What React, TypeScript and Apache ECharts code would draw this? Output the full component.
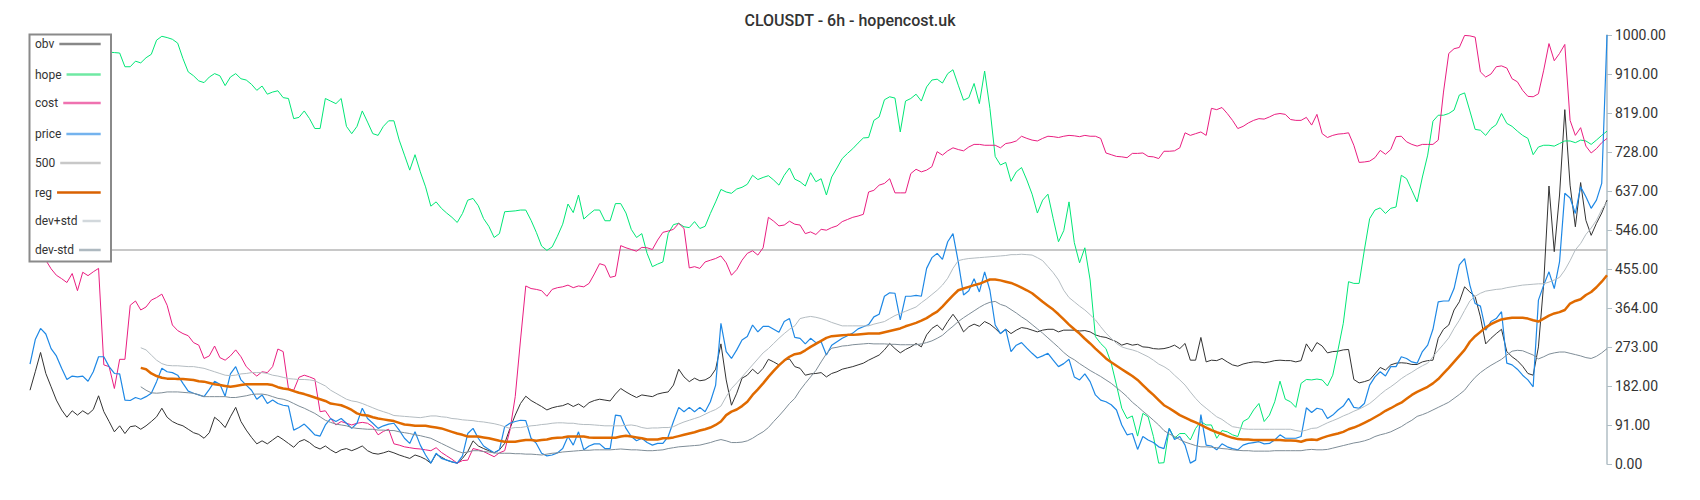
import React, { useEffect, useRef } from "react";
import * as echarts from "echarts";

const TITLE = "CLOUSDT - 6h - hopencost.uk";

const yTickLabels = ["0.00", "91.00", "182.00", "273.00", "364.00", "455.00", "546.00", "637.00", "728.00", "819.00", "910.00", "1000.00"];

const obv = [
  172,215,260,211,180,149,126,109,124,114,124,116,127,159,122,99,75,89,71,87,89,81,89,99,110,130,109,99,93,89,81,73,69,60,73,109,99,85,110,132,99,79,62,47,54,47,56,65,57,48,39,52,57,50,40,35,42,33,26,33,36,31,36,42,31,25,23,26,30,26,
  21,17,13,21,17,11,2,23,16,9,5,2,13,29,54,42,36,31,26,33,48,83,114,141,158,148,141,134,126,131,134,136,141,134,140,132,143,148,151,149,147,163,176,168,161,155,161,159,157,163,166,168,184,221,203,192,200,194,196,203,221,280,196,137,165,200,207,221,210,223,244,238,231,242,245,227,
  223,207,210,211,213,203,211,215,221,224,227,231,235,242,248,254,266,281,269,259,267,273,281,273,301,316,324,312,332,349,332,308,320,326,321,332,326,316,304,314,304,312,318,316,312,308,312,314,314,308,312,312,312,310,311,308,301,297,295,290,285,277,281,277,279,273,272,269,268,269,272,277,269,281,242,242,295,
  238,242,241,246,238,231,228,233,236,238,238,236,238,241,242,241,241,238,241,280,262,283,275,259,262,263,266,267,197,189,192,196,210,225,219,231,235,236,235,232,232,238,241,242,293,314,324,359,378,413,401,390,343,280,293,304,314,262,250,241,228,211,207,273,421,648,495,627,826,650,553,656,568,533,561,585,615,
];

const hope = [
  985,995,1000,993,987,980,975,970,966,963,961,962,960,961,962,960,
  959,958,926,926,939,935,947,955,988,997,994,990,981,945,914,905,893,889,902,910,905,882,902,910,898,895,885,871,881,862,867,870,854,852,805,808,823,805,782,782,852,846,840,852,787,770,787,823,797,770,766,787,800,800,
  755,720,685,721,681,646,601,611,596,585,575,563,584,615,619,602,572,554,528,537,588,589,590,592,592,568,540,508,498,506,531,559,606,586,627,571,582,592,592,567,567,607,607,585,547,528,537,491,460,466,471,537,558,561,553,551,565,549,554,584,611,640,634,631,641,645,652,673,663,668,672,662,650,673,690,664,
  658,648,679,658,665,627,669,690,712,724,735,748,760,761,801,809,849,856,853,774,846,852,862,846,879,895,897,888,910,919,883,848,854,887,840,916,829,717,697,703,659,681,691,662,629,585,615,629,572,518,544,611,516,469,504,429,297,281,269,235,184,130,106,112,65,118,110,64,2,3,83,60,71,71,56,83,99,91,91,60,78,
  75,68,64,99,106,126,141,99,114,145,193,151,145,132,188,197,196,198,196,182,207,266,328,425,421,421,499,572,592,597,584,596,599,673,665,638,611,669,720,799,813,813,817,825,860,865,823,780,778,766,782,791,817,794,787,776,766,759,721,739,743,743,741,747,753,753,749,755,753,745,755,766,776,
];

const cost = [
  510,495,482,475,455,440,432,423,444,404,447,439,448,456,231,227,176,244,244,370,380,359,366,382,388,396,370,324,311,304,299,283,277,246,252,275,248,242,252,266,250,227,215,205,215,213,227,268,262,176,172,202,207,203,198,122,124,106,91,99,95,91,95,97,95,87,68,76,81,47,
  44,40,38,36,35,33,31,38,27,19,11,2,8,9,36,33,29,23,17,26,31,79,157,289,415,409,407,404,391,407,411,413,417,411,415,413,421,443,467,463,435,438,509,504,500,496,505,504,500,522,540,543,547,561,549,457,460,456,471,475,479,485,469,440,453,475,491,497,487,504,575,566,555,557,566,559,
  557,537,541,535,547,545,551,555,565,570,575,578,582,634,638,650,654,665,632,632,632,677,687,681,685,693,728,720,730,737,733,730,739,745,745,743,743,743,737,747,749,753,764,759,755,753,759,764,763,761,764,766,765,763,766,764,764,759,725,721,717,716,714,724,724,725,717,716,712,729,729,730,737,772,766,770,774,766,
  829,826,831,817,801,782,787,795,801,805,804,809,815,817,815,803,801,801,808,790,815,770,761,766,769,770,772,743,703,704,706,714,731,722,733,763,764,751,745,741,745,745,745,755,867,957,968,971,999,998,995,914,902,909,926,928,923,898,891,871,857,856,863,918,980,940,957,978,801,766,784,741,725,735,749,759,
];

const price = [
  233,290,316,303,269,252,223,197,205,203,205,193,215,250,250,227,211,210,149,148,155,151,157,165,192,223,215,213,207,188,170,165,161,157,174,193,186,158,210,227,196,184,172,151,161,141,149,141,137,135,79,85,93,81,68,65,91,106,99,106,95,83,95,130,106,95,83,89,93,95,
  79,60,48,75,44,21,2,25,13,9,5,2,19,71,83,60,42,34,26,33,87,95,99,102,101,60,48,25,19,21,26,36,64,44,75,33,42,47,47,36,36,114,112,83,64,54,60,50,44,48,48,64,99,132,122,132,122,132,122,145,184,328,262,246,266,289,297,324,308,321,321,314,307,332,339,295,
  293,280,293,283,285,254,277,285,293,299,305,315,320,325,343,349,391,399,398,336,391,391,393,391,456,481,491,477,518,537,471,394,404,432,401,448,405,324,304,314,262,277,283,270,258,247,252,258,242,227,234,244,203,196,210,192,161,149,145,138,126,91,68,71,34,64,56,50,40,36,83,57,64,44,2,9,115,
  44,42,33,47,
  40,36,33,44,48,50,52,47,48,56,68,60,60,60,64,131,120,130,127,106,114,126,135,153,132,130,141,184,203,215,205,227,227,250,246,238,235,262,277,314,378,380,380,409,464,479,417,374,368,312,332,339,355,235,231,221,207,196,180,382,417,448,409,471,631,620,584,646,623,596,615,654,1000,
];

const level500 = [500];

const reg = [
  null,null,null,null,null,null,null,null,null,null,null,null,null,null,null,null,null,null,null,null,null,
  224,221,211,205,201,199,199,198,198,197,196,193,192,189,186,184,182,180,182,184,186,186,186,186,186,184,179,176,174,170,166,163,159,155,151,147,141,139,137,132,126,118,114,113,109,106,104,102,100,
  96,92,91,89,89,89,87,85,83,79,75,71,68,64,64,64,62,60,57,54,52,52,52,54,56,56,54,56,57,60,61,62,64,64,64,64,62,61,61,61,61,61,64,66,64,62,60,57,57,57,60,60,62,65,68,71,74,78,81,85,91,99,114,122,127,135,145,161,174,188,203,217,230,241,250,256,
  258,265,273,280,287,294,298,299,300,301,301,302,303,304,304,304,307,310,313,316,321,325,329,334,340,348,355,367,380,393,405,409,413,417,420,425,430,430,428,425,422,417,411,405,398,388,378,369,360,349,337,325,314,304,292,281,269,258,246,237,229,221,213,205,196,184,172,161,149,137,130,122,114,108,102,97,91,85,79,74,
  70,65,61,58,57,57,56,56,56,56,56,56,55,55,54,52,56,57,56,61,65,68,71,75,81,85,90,96,102,109,116,124,130,137,143,152,161,168,174,180,188,198,211,224,238,252,266,285,298,308,318,326,332,337,339,341,341,341,339,335,332,339,346,351,354,359,374,380,384,394,401,412,425,440,
];

const devUp = [
  null,null,null,null,null,null,null,null,null,null,null,null,null,null,null,null,null,null,null,null,null,
  271,266,254,242,234,230,229,229,228,227,227,225,223,219,215,211,207,206,207,210,211,213,213,213,211,207,205,202,199,198,197,197,196,194,188,182,172,165,158,151,147,145,141,136,131,126,122,118,113,
  112,111,110,109,108,110,112,112,110,109,106,105,103,102,101,99,98,96,94,91,87,83,85,85,87,89,90,92,93,95,96,96,95,95,93,92,92,91,90,89,89,89,89,90,91,89,85,83,84,84,85,85,87,93,98,102,106,110,116,122,127,135,157,176,189,203,217,231,245,259,269,281,293,304,314,322,
  339,342,344,342,339,335,330,326,322,322,322,322,322,322,326,329,332,339,346,351,356,361,366,376,385,395,405,417,433,456,474,477,479,480,481,482,483,484,485,486,488,488,489,488,487,481,474,460,446,429,405,388,378,368,359,348,336,320,305,293,281,273,269,266,262,256,250,242,233,227,219,207,196,184,168,153,140,130,120,110,
  104,95,87,85,82,81,81,81,81,81,81,81,81,81,78,76,79,83,84,90,96,101,106,112,117,123,128,134,141,151,162,172,180,189,199,207,214,222,229,235,250,265,279,294,316,335,358,380,391,398,403,405,407,408,411,413,415,417,418,419,420,420,424,429,435,452,474,499,514,535,550,568,593,611,
];

const devDn = [
  null,null,null,null,null,null,null,null,null,null,null,null,null,null,null,null,null,null,null,null,null,
  180,172,166,165,166,168,168,168,167,166,165,161,157,157,157,157,157,155,155,157,159,162,163,163,161,157,153,151,147,141,135,130,124,118,110,102,97,93,91,89,85,83,82,81,81,79,79,78,78,
  75,73,71,68,66,63,60,54,48,42,36,30,26,28,31,31,29,28,26,25,25,25,24,24,23,23,22,21,23,25,26,28,29,30,31,32,32,33,33,33,33,34,35,34,33,33,32,31,31,32,33,36,38,40,41,42,43,44,47,50,54,57,54,50,50,51,54,60,68,75,85,99,112,126,141,153,
  172,188,203,218,238,257,270,272,275,276,278,279,280,281,280,280,280,279,279,278,278,278,278,280,283,287,293,300,311,321,332,341,349,357,365,372,377,379,372,368,360,352,343,335,325,315,305,294,283,272,260,250,243,234,226,218,211,204,196,188,178,168,157,144,134,123,113,102,91,78,70,64,57,51,47,43,40,40,39,38,
  36,35,33,32,31,31,30,30,30,30,31,31,31,31,31,31,33,34,33,33,34,37,40,43,46,49,51,54,58,64,68,71,75,81,87,95,102,111,115,120,126,132,138,144,153,162,172,188,202,213,222,230,237,244,254,263,265,264,259,254,245,250,256,259,261,261,258,255,252,248,246,251,259,269,
];

const seriesNames = ["obv", "hope", "cost", "price", "500", "reg", "dev+std", "dev-std"];

// styles
const lineColors: Record<string, string> = {
  obv: "#333333",
  hope: "#00e676",
  cost: "#e91e80",
  price: "#1e88e5",
  "500": "#c8c8c8",
  reg: "#e06a00",
  "dev+std": "#b4bcc1",
  "dev-std": "#7f8d97",
};
const iconColors: Record<string, string> = {
  obv: "#888888",
  hope: "#6fe9a3",
  cost: "#ef72b0",
  price: "#74b3ee",
  "500": "#c8c8c8",
  reg: "#d96100",
  "dev+std": "#d2d8dc",
  "dev-std": "#aeb9c0",
};
const lineWidths: Record<string, number> = {
  obv: 1, hope: 1, cost: 1, price: 1.2, "500": 2, reg: 2.5, "dev+std": 1, "dev-std": 1,
};
const legendCenters = [45, 75.5, 104, 135, 164, 193.5, 222, 251];
const LEGEND_LEFT = 35;
const LEGEND_RIGHT = 100.7;
const FONT = "Roboto";

export default function App() {
  const ref = useRef<HTMLDivElement>(null);

  useEffect(() => {
    if (!ref.current) return;
    const chart = echarts.init(ref.current, null, { renderer: "svg" });
    const categories = price.map((_, i) => String(i + 1));
    const step = 1000 / 11;

    const canvas = document.createElement("canvas");
    const ctx = canvas.getContext("2d")!;
    ctx.font = `12px ${FONT}`;

    const legends = seriesNames.map((name, k) => {
      const tw = ctx.measureText(name).width;
      const iw = Math.max(8, LEGEND_RIGHT - LEGEND_LEFT - tw - 5);
      return {
        data: [
          {
            name,
            lineStyle: { color: iconColors[name], width: 2.5, opacity: 1 },
            itemStyle: { color: iconColors[name], opacity: 0, borderWidth: 0 },
          },
        ],
        left: LEGEND_LEFT,
        top: legendCenters[k] - 7,
        orient: "horizontal",
        align: "right",
        itemWidth: iw,
        itemHeight: 14,
        padding: 0,
        itemGap: 0,
        selectedMode: false,
        z: 5,
        textStyle: { fontFamily: FONT, fontSize: 12, color: "#333" },
      };
    });

    const dataMap: Record<string, (number | null)[]> = {
      obv, hope, cost, price, reg, "dev+std": devUp, "dev-std": devDn,
    };

    const series: any[] = seriesNames.map((name) => {
      const base: any = {
        name,
        type: "line",
        symbol: "none",
        showSymbol: false,
        silent: true,
        animation: false,
        connectNulls: false,
        z: 2,
        lineStyle: { color: lineColors[name], width: lineWidths[name] },
        itemStyle: { color: lineColors[name] },
        emphasis: { disabled: true },
        data: name === "500" ? [] : dataMap[name],
      };
      if (name === "500") {
        base.markLine = {
          symbol: ["none", "none"],
          silent: true,
          animation: false,
          z: 2,
          label: { show: false },
          emphasis: { disabled: true },
          lineStyle: { color: lineColors[name], width: lineWidths[name], type: "solid" },
          data: [{ yAxis: level500[0] }],
        };
      }
      return base;
    });

    chart.setOption({
      animation: false,
      backgroundColor: "#ffffff",
      title: {
        text: TITLE,
        left: "center",
        top: 7,
        textStyle: { fontFamily: FONT, fontSize: 16, fontWeight: 500, color: "#333" },
      },
      legend: legends,
      grid: { left: 30, right: 93, top: 35, bottom: 36 },
      xAxis: { type: "category", data: categories, boundaryGap: false, show: false },
      yAxis: {
        type: "value",
        position: "right",
        min: 0,
        max: 1000,
        interval: step,
        axisLine: { show: true, lineStyle: { color: "#b0bec5", width: 1.5 } },
        axisTick: { show: true, length: 5, lineStyle: { color: "#b0bec5" } },
        splitLine: { show: false },
        axisLabel: {
          margin: 8,
          color: "#333",
          fontFamily: FONT,
          fontSize: 14,
          formatter: (v: number) => yTickLabels[Math.round(v / step)] ?? "",
        },
      },
      graphic: {
        elements: [
          {
            type: "rect",
            z: 3,
            zlevel: 0,
            silent: true,
            shape: { x: 29.5, y: 34.5, width: 81.5, height: 227 },
            style: { fill: "#ffffff", stroke: "#8a8a8a", lineWidth: 2 },
          },
        ],
      },
      series,
    });

    return () => chart.dispose();
  }, []);

  return <div ref={ref} style={{ position: "absolute", left: 0, top: 0, width: 1700, height: 500 }} />;
}
